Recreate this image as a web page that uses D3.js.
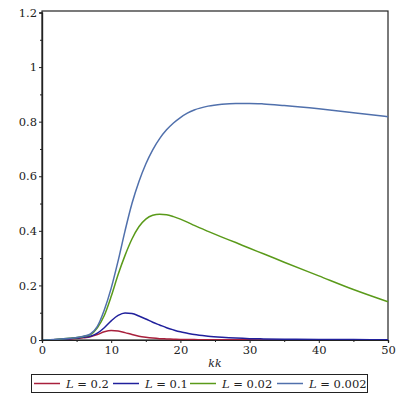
<!DOCTYPE html>
<html>
  <head>
    <meta charset="utf-8">
    <script src="https://d3js.org/d3.v7.min.js"></script>
    <style>
      body { margin: 0; background: #fff; }
      text { font-family: "DejaVu Serif", serif; }
    </style>
  </head>
  <body>
    <svg width="399" height="399"></svg>
    <script>
      var svg = d3.select("svg"),
          margin = {top: 12.5, right: 11, bottom: 59, left: 42};

      // kk sample points, one curve per L value
      var kk      = [0, 2, 4, 6, 7, 8, 9, 10, 11, 12, 13, 14, 15, 16, 17, 18, 19, 20, 21, 22, 24, 26, 28, 30, 32, 35, 40, 45, 50];
      var L02     = [0, 0.001, 0.004, 0.008, 0.012, 0.02, 0.03, 0.035, 0.033, 0.027, 0.02, 0.014, 0.01, 0.007, 0.005, 0.004, 0.003, 0.002, 0.0018, 0.0015, 0.001, 0.001, 0.0005, 0.0005, 0.0003, 0.0002, 0.0001, 0.0001, 0.0001];
      var L01     = [0, 0.002, 0.005, 0.01, 0.014, 0.025, 0.045, 0.07, 0.09, 0.099, 0.097, 0.088, 0.077, 0.065, 0.055, 0.045, 0.037, 0.03, 0.025, 0.02, 0.014, 0.01, 0.007, 0.005, 0.004, 0.003, 0.002, 0.0015, 0.001];
      var L002    = [0, 0.002, 0.006, 0.013, 0.02, 0.045, 0.09, 0.16, 0.24, 0.31, 0.37, 0.415, 0.443, 0.457, 0.461, 0.459, 0.452, 0.443, 0.432, 0.42, 0.398, 0.377, 0.357, 0.336, 0.316, 0.285, 0.235, 0.185, 0.14];
      var L0002   = [0, 0.002, 0.006, 0.014, 0.022, 0.05, 0.11, 0.19, 0.29, 0.40, 0.50, 0.58, 0.645, 0.697, 0.738, 0.77, 0.795, 0.815, 0.831, 0.843, 0.857, 0.864, 0.867, 0.867, 0.865, 0.859, 0.847, 0.833, 0.818];

      var seriesNames = ["L = 0.2", "L = 0.1", "L = 0.02", "L = 0.002"];
      var seriesValues = [L02, L01, L002, L0002];
      var colors = ["#a8203c", "#20209c", "#5a9a1a", "#5070ac"];

      var xTicks = [0, 10, 20, 30, 40, 50];
      var yTicks = [0, 0.2, 0.4, 0.6, 0.8, 1, 1.2];

      var x = d3.scaleLinear().domain([0, 50]).range([margin.left, 388]);
      var y = d3.scaleLinear().domain([0, 1.2]).range([340, margin.top]);

      // frame
      svg.append("rect")
          .attr("x", x(0)).attr("y", y(1.2) - 1.5)
          .attr("width", x(50) - x(0)).attr("height", y(0) - y(1.2) + 1.5)
          .attr("fill", "none").attr("stroke", "#222").attr("stroke-width", 1.2);

      var line = d3.line()
          .x(function(d, i) { return x(kk[i]); })
          .y(function(d) { return y(d); })
          .curve(d3.curveMonotoneX);

      svg.selectAll(".curve")
          .data(seriesValues)
        .enter().append("path")
          .attr("class", "curve")
          .attr("d", line)
          .attr("fill", "none")
          .attr("stroke", function(d, i) { return colors[i]; })
          .attr("stroke-width", 1.5);

      // axes
      svg.append("g")
          .attr("transform", "translate(0," + y(0) + ")")
          .call(d3.axisBottom(x).tickValues(xTicks).tickSize(3).tickPadding(3).tickFormat(d3.format("d")));
      svg.append("g")
          .attr("transform", "translate(0," + y(0) + ")")
          .call(d3.axisBottom(x).tickValues([5, 15, 25, 35, 45]).tickSize(2).tickFormat(""));
      svg.append("g")
          .attr("transform", "translate(" + x(0) + ",0)")
          .call(d3.axisLeft(y).tickValues(yTicks).tickSize(3).tickPadding(2).tickFormat(function(d) { return d3.format("")(d); }));
      svg.append("g")
          .attr("transform", "translate(" + x(0) + ",0)")
          .call(d3.axisLeft(y).tickValues([0.1, 0.3, 0.5, 0.7, 0.9, 1.1]).tickSize(2).tickFormat(""));

      svg.selectAll(".domain").attr("stroke", "#222").attr("stroke-width", 1.2);
      svg.selectAll(".tick line").attr("stroke", "#222");
      svg.selectAll(".tick text")
          .attr("font-family", "DejaVu Serif, serif")
          .attr("font-size", 11.5)
          .attr("fill", "#222");

      svg.append("text")
          .attr("x", 215).attr("y", 367)
          .attr("text-anchor", "middle")
          .attr("font-size", 11)
          .attr("font-style", "italic")
          .attr("fill", "#222")
          .text("kk");

      // legend
      var legendX = [34, 113, 190, 277];
      var legend = svg.append("g");
      legend.append("rect")
          .attr("x", 31.5).attr("y", 374.5)
          .attr("width", 336).attr("height", 18)
          .attr("fill", "none").attr("stroke", "#222");
      var items = legend.selectAll(".item")
          .data(seriesNames)
        .enter().append("g")
          .attr("class", "item")
          .attr("transform", function(d, i) { return "translate(" + legendX[i] + ",383.5)"; });
      items.append("line")
          .attr("x1", 0).attr("x2", 26)
          .attr("stroke", function(d, i) { return colors[i]; })
          .attr("stroke-width", 1.5);
      var labels = items.append("text")
          .attr("x", 32).attr("y", 4.5)
          .attr("font-size", 11.5)
          .attr("fill", "#222");
      labels.append("tspan").attr("font-style", "italic").text("L");
      labels.append("tspan").text(function(d) { return d.slice(1); });
    </script>
  </body>
</html>
